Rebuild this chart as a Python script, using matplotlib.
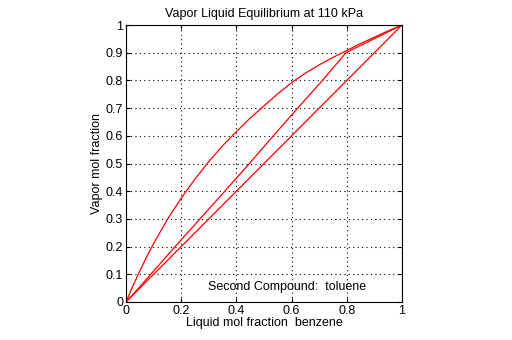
import matplotlib
matplotlib.use("Agg")
import matplotlib.pyplot as plt

# Equilibrium curve
eq_x = [0.0, 0.025, 0.05, 0.075, 0.1, 0.15, 0.2, 0.25, 0.3, 0.35, 0.4, 0.45, 0.5,
        0.55, 0.6, 0.65, 0.7, 0.75, 0.8, 0.85, 0.9, 0.95, 1.0]
eq_y = [0.0, 0.058, 0.112, 0.163, 0.211, 0.298, 0.375, 0.444, 0.507, 0.564, 0.615, 0.664, 0.708,
        0.752, 0.792, 0.826, 0.856, 0.883, 0.908, 0.933, 0.956, 0.979, 1.0]

# Middle line
mid_x = [0.0, 0.05, 0.178, 0.268, 0.358, 0.447, 0.534, 0.622, 0.712, 0.797, 1.0]
mid_y = [0.0, 0.055, 0.20, 0.30, 0.40, 0.50, 0.60, 0.70, 0.80, 0.90, 1.0]

# Diagonal
diag_x = [0.0, 1.0]
diag_y = [0.0, 1.0]

ticks_x = [0, 0.2, 0.4, 0.6, 0.8, 1]
ticks_y = [0, 0.1, 0.2, 0.3, 0.4, 0.5, 0.6, 0.7, 0.8, 0.9, 1]
xtick_labels = ["0", "0.2", "0.4", "0.6", "0.8", "1"]
ytick_labels = ["0", "0.1", "0.2", "0.3", "0.4", "0.5", "0.6", "0.7", "0.8", "0.9", "1"]

plt.rcParams['font.family'] = ['Liberation Sans', 'DejaVu Sans']
plt.rcParams['font.size'] = 9

fig = plt.figure(figsize=(5.12, 3.4), dpi=100)
ax = fig.add_axes([126/512, 38/340, 276/512, 277/340])

ax.plot(eq_x, eq_y, color='red', lw=0.9)
ax.plot(mid_x, mid_y, color='red', lw=0.9)
ax.plot(diag_x, diag_y, color='red', lw=0.9)

ax.set_xlim(0, 1)
ax.set_ylim(0, 1)
ax.set_xticks(ticks_x)
ax.set_xticklabels(xtick_labels)
ax.set_yticks(ticks_y)
ax.set_yticklabels(ytick_labels)
ax.tick_params(direction='in', length=3, width=0.8, top=True, right=True, pad=2, labelsize=9)
ax.grid(True, color='black', linestyle=(0, (1, 3)), linewidth=0.8)
for s in ax.spines.values():
    s.set_linewidth(0.8)

ax.set_title("Vapor Liquid Equilibrium at 110 kPa", fontsize=9, pad=6)
ax.set_xlabel("Liquid mol fraction  benzene", fontsize=9, labelpad=0)
ax.set_ylabel("Vapor mol fraction", fontsize=9, labelpad=2)
ax.text(0.298, 0.053, "Second Compound:  toluene", fontsize=9, va='center', ha='left')

fig.savefig("out.png", dpi=100)
